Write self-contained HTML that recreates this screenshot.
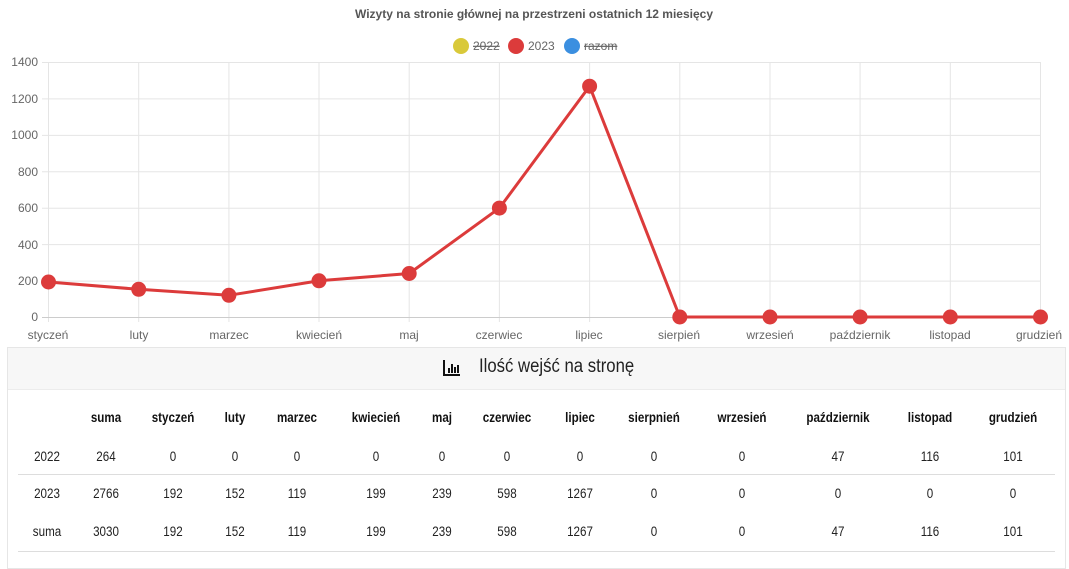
<!DOCTYPE html>
<html><head><meta charset="utf-8"><style>
body{margin:0;width:1069px;height:560px;background:#fff;overflow:hidden;position:relative;font-family:"Liberation Sans",sans-serif}
svg{position:absolute;left:0;top:0}
.card{position:absolute;left:7px;top:347px;width:1057px;height:220px;border:1px solid #e6e6e6;background:#fff}
.hdr{position:absolute;left:0;top:0;right:0;height:41px;background:#f7f7f7;border-bottom:1px solid #ececec}
.c{position:absolute;transform:translateX(-50%) scaleX(0.86);font-size:13.5px;color:#222;white-space:nowrap}
.b{font-weight:bold;color:#111}
.ln{position:absolute;left:18px;width:1037px;height:1px;background:#ddd}
</style></head><body>
<svg width="1069" height="345" font-family="Liberation Sans, sans-serif">
<text x="534" y="18" text-anchor="middle" font-size="12" font-weight="bold" fill="#555">Wizyty na stronie głównej na przestrzeni ostatnich 12 miesięcy</text>
<circle cx="461" cy="46" r="8" fill="#d9c93a"/><text x="473" y="50" font-size="12" fill="#666" text-decoration="line-through">2022</text>
<circle cx="516" cy="46" r="8" fill="#dc3b3b"/><text x="528" y="50" font-size="12" fill="#666">2023</text>
<circle cx="572" cy="46" r="8" fill="#3b8fe0"/><text x="584" y="50" font-size="12" fill="#666" text-decoration="line-through">razom</text>
<g stroke="#e5e5e5" stroke-width="1">
<line x1="42" y1="62.5" x2="1040" y2="62.5"/><line x1="42" y1="98.9" x2="1040" y2="98.9"/><line x1="42" y1="135.4" x2="1040" y2="135.4"/><line x1="42" y1="171.8" x2="1040" y2="171.8"/><line x1="42" y1="208.2" x2="1040" y2="208.2"/><line x1="42" y1="244.6" x2="1040" y2="244.6"/><line x1="42" y1="281.1" x2="1040" y2="281.1"/>
<line x1="48.5" y1="62" x2="48.5" y2="322"/><line x1="138.7" y1="62" x2="138.7" y2="322"/><line x1="228.9" y1="62" x2="228.9" y2="322"/><line x1="319" y1="62" x2="319" y2="322"/><line x1="409.2" y1="62" x2="409.2" y2="322"/><line x1="499.4" y1="62" x2="499.4" y2="322"/><line x1="589.6" y1="62" x2="589.6" y2="322"/><line x1="679.8" y1="62" x2="679.8" y2="322"/><line x1="770" y1="62" x2="770" y2="322"/><line x1="860.1" y1="62" x2="860.1" y2="322"/><line x1="950.3" y1="62" x2="950.3" y2="322"/><line x1="1040.5" y1="62" x2="1040.5" y2="322"/>
</g>
<line x1="42" y1="317.5" x2="1040" y2="317.5" stroke="#ccc"/>
<g font-size="12" fill="#666" text-anchor="end">
<text x="38" y="66">1400</text><text x="38" y="103">1200</text><text x="38" y="139">1000</text><text x="38" y="176">800</text><text x="38" y="212">600</text><text x="38" y="249">400</text><text x="38" y="285">200</text><text x="38" y="321">0</text></g>
<g font-size="12" fill="#666" text-anchor="middle">
<text x="48" y="339">styczeń</text><text x="139" y="339">luty</text><text x="229" y="339">marzec</text><text x="319" y="339">kwiecień</text><text x="409" y="339">maj</text><text x="499" y="339">czerwiec</text><text x="589" y="339">lipiec</text><text x="679" y="339">sierpień</text><text x="770" y="339">wrzesień</text><text x="860" y="339">październik</text><text x="950" y="339">listopad</text><text x="1040" y="339" text-anchor="end" dx="22">grudzień</text></g>
<polyline fill="none" stroke="#dc3b3b" stroke-width="3" points="48.5,282 138.7,289.3 228.9,295.3 319,280.8 409.2,273.5 499.4,208.1 589.6,86.2 679.8,317 770,317 860.1,317 950.3,317 1040.5,317"/>
<g fill="#dc3b3b"><circle cx="48.5" cy="282" r="7.5"/><circle cx="138.7" cy="289.3" r="7.5"/><circle cx="228.9" cy="295.3" r="7.5"/><circle cx="319" cy="280.8" r="7.5"/><circle cx="409.2" cy="273.5" r="7.5"/><circle cx="499.4" cy="208.1" r="7.5"/><circle cx="589.6" cy="86.2" r="7.5"/><circle cx="679.8" cy="317" r="7.5"/><circle cx="770" cy="317" r="7.5"/><circle cx="860.1" cy="317" r="7.5"/><circle cx="950.3" cy="317" r="7.5"/><circle cx="1040.5" cy="317" r="7.5"/></g>
</svg>
<div class="card"><div class="hdr">
<svg width="20" height="20" style="left:434px;top:10px"><path d="M2 2V17H18" stroke="#111" stroke-width="2" fill="none"/><rect x="6" y="10" width="2" height="5" fill="#111"/><rect x="9" y="6" width="2" height="9" fill="#111"/><rect x="12" y="9" width="2" height="6" fill="#111"/><rect x="15" y="7" width="2" height="8" fill="#111"/></svg>
<div style="position:absolute;left:471px;top:8px;font-size:19px;color:#222;transform:scaleX(0.88);transform-origin:left">Ilość wejść na stronę</div></div></div>
<div class="ln" style="top:474px"></div><div class="ln" style="top:551px"></div>
<div id="t"></div>
<script>
var xs=[47,106,173,235,297,376,442,507,580,654,742,838,930,1013];
var rows=[[418,true,["","suma","styczeń","luty","marzec","kwiecień","maj","czerwiec","lipiec","sierpnień","wrzesień","październik","listopad","grudzień"]],
[449,false,["2022","264","0","0","0","0","0","0","0","0","0","47","116","101"]],
[486,false,["2023","2766","192","152","119","199","239","598","1267","0","0","0","0","0"]],
[524,false,["suma","3030","192","152","119","199","239","598","1267","0","0","47","116","101"]]];
var h="";rows.forEach(function(r){r[2].forEach(function(s,i){h+='<div class="c'+(r[1]?' b':'')+'" style="left:'+xs[i]+'px;top:'+(r[1]?r[0]-8:r[0])+'px">'+s+'</div>';});});
document.getElementById("t").innerHTML=h;
</script>
</body></html>
